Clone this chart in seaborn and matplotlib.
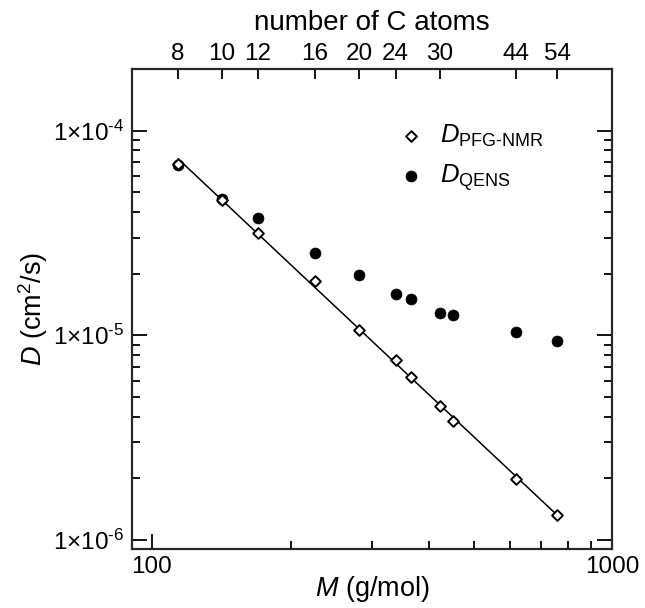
import numpy as np
import pandas as pd
import matplotlib
matplotlib.use("Agg")
import matplotlib.pyplot as plt
import seaborn as sns

# ---- data ----
M_gmol = [114, 142, 170, 226, 282, 338, 366, 422, 450, 618, 758]
D_pfg = [6.89e-5, 4.56e-5, 3.16e-5, 1.85e-5, 1.067e-5, 7.55e-6, 6.27e-6,
         4.51e-6, 3.82e-6, 1.99e-6, 1.33e-6]
D_qens = [6.8e-5, 4.62e-5, 3.73e-5, 2.51e-5, 1.97e-5, 1.585e-5, 1.51e-5,
          1.29e-5, 1.26e-5, 1.04e-5, 9.35e-6]
n_carbon_ticks = [8, 10, 12, 16, 20, 24, 30, 44, 54]
x_ticks = [100, 1000]
y_ticks = [1e-6, 1e-5, 1e-4]
y_tick_labels = [r"$1{\times}10^{\text{-6}}$", r"$1{\times}10^{\text{-5}}$",
                 r"$1{\times}10^{\text{-4}}$"]

sns.set_style("ticks")
plt.rcParams["font.family"] = ["Liberation Sans", "DejaVu Sans"]
plt.rcParams["mathtext.fontset"] = "custom"
plt.rcParams["mathtext.rm"] = "Liberation Sans"
plt.rcParams["mathtext.it"] = "Liberation Sans:italic"
plt.rcParams["mathtext.bf"] = "Liberation Sans:bold"
plt.rcParams["text.color"] = "black"
plt.rcParams["axes.labelcolor"] = "black"

df = pd.DataFrame({"M": M_gmol, "pfg": D_pfg, "qens": D_qens})

# power-law fit of PFG-NMR data
slope, icpt = np.polyfit(np.log10(df["M"]), np.log10(df["pfg"]), 1)
fit = pd.DataFrame({"M": [df["M"].min(), df["M"].max()]})
fit["D"] = 10 ** (icpt + slope * np.log10(fit["M"]))

fig = plt.figure(figsize=(6.45, 6.08), dpi=100)
ax = fig.add_axes([0.2039, 0.0965, 0.7457, 0.79])
ax.set_xscale("log")
ax.set_yscale("log")

sns.lineplot(data=fit, x="M", y="D", ax=ax, color="black", lw=1.1, zorder=2)
sns.scatterplot(data=df, x="M", y="qens", ax=ax, marker="o", s=62,
                color="black", edgecolor="black", linewidth=0.5, zorder=3,
                label=r"$D_{\text{QENS}}$")
sns.scatterplot(data=df, x="M", y="pfg", ax=ax, marker="D", s=30,
                facecolor="white", edgecolor="black", linewidth=1.4, zorder=4,
                label=r"$D_{\text{PFG-NMR}}$")

ax.set_xlim(90.3, 1000)
ax.set_ylim(9.0e-7, 2.0e-4)

ax.set_xticks(x_ticks)
ax.set_xticklabels([str(v) for v in x_ticks])
ax.set_yticks(y_ticks)
ax.set_yticklabels(y_tick_labels)
ax.xaxis.set_minor_formatter(matplotlib.ticker.NullFormatter())
ax.yaxis.set_minor_formatter(matplotlib.ticker.NullFormatter())

ax.tick_params(which="both", direction="in", top=False, right=True,
               labelsize=17.5, width=1.3, colors="black")
ax.tick_params(which="major", length=10.5)
ax.tick_params(which="minor", length=5.5)
ax.tick_params(axis="x", pad=5)
ax.tick_params(axis="y", pad=5)
for sp in ax.spines.values():
    sp.set_linewidth(1.5)
    sp.set_color("black")

ax.set_xlabel(r"$M$ (g/mol)", fontsize=19.5, labelpad=-3)
ax.set_ylabel(r"$D$ (cm$^2$/s)", fontsize=19.5, labelpad=2)

# top axis: number of C atoms
ax2 = ax.twiny()
ax2.set_xscale("log")
ax2.set_xlim(ax.get_xlim())
ax2.set_xticks([14 * n + 2 for n in n_carbon_ticks])
ax2.set_xticklabels([str(n) for n in n_carbon_ticks])
ax2.xaxis.set_minor_locator(matplotlib.ticker.NullLocator())
ax2.tick_params(which="both", direction="in", length=7, width=1.3,
                labelsize=17.5, pad=3, colors="black")
ax2.set_xlabel("number of C atoms", fontsize=20, labelpad=9)
for sp in ax2.spines.values():
    sp.set_linewidth(1.5)

h, l = ax.get_legend_handles_labels()
ax.legend(h[::-1], l[::-1], loc="upper left", bbox_to_anchor=(0.518, 0.925),
          frameon=False, fontsize=18.5, handlelength=1.0, handletextpad=0.6,
          labelspacing=0.5, borderpad=0.2)

fig.savefig("out.png", dpi=100)
